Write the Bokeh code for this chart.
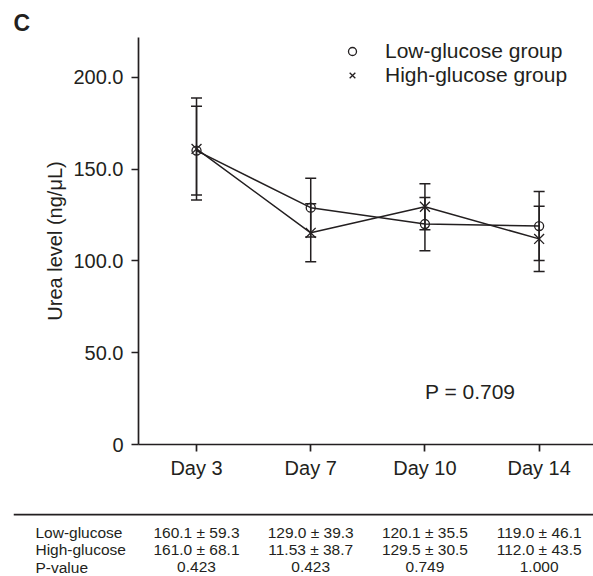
from bokeh.plotting import figure
from bokeh.models import (ColumnDataSource, Range1d, FixedTicker, Whisker, TeeHead,
                          Legend, LegendItem, Label)
from bokeh.layouts import column
from bokeh.embed import file_html
from bokeh.resources import INLINE
from bokeh.core.properties import value

# ---- data ----
days = ["Day 3", "Day 7", "Day 10", "Day 14"]
low_mean = [160.1, 129.0, 120.1, 119.0]
high_mean = [161.0, 115.3, 129.5, 112.0]
low_err = [24.2, 16.0, 14.5, 18.8]    # error bars (SEM) as drawn
high_err = [27.8, 15.8, 12.5, 17.8]
y_ticks = [0, 50, 100, 150, 200]
y_tick_labels = ["0", "50.0", "100.0", "150.0", "200.0"]
p_overall = "P = 0.709"

row_names = ["Low-glucose", "High-glucose", "P-value"]
low_row = ["160.1 ± 59.3", "129.0 ± 39.3", "120.1 ± 35.5", "119.0 ± 46.1"]
high_row = ["161.0 ± 68.1", "11.53 ± 38.7", "129.5 ± 30.5", "112.0 ± 43.5"]
p_row = ["0.423", "0.423", "0.749", "1.000"]

INK = "#231f20"
FONT = "Liberation Sans"

xs = list(range(len(days)))
src = ColumnDataSource(dict(
    x=xs,
    low=low_mean, high=high_mean,
    low_up=[m + e for m, e in zip(low_mean, low_err)],
    low_lo=[m - e for m, e in zip(low_mean, low_err)],
    high_up=[m + e for m, e in zip(high_mean, high_err)],
    high_lo=[m - e for m, e in zip(high_mean, high_err)],
))

p = figure(width=593, height=500, output_backend="svg", toolbar_location=None,
           x_range=Range1d(-0.508, 3.476), y_range=Range1d(0, 221.7),
           min_border_left=138, min_border_right=0, min_border_top=37,
           min_border_bottom=56)
p.frame_align = False
p.outline_line_color = None
p.xgrid.visible = False
p.ygrid.visible = False
p.background_fill_color = "white"
p.border_fill_color = "white"

p.title.text = "C"
p.title.align = "left"
p.title.offset = -125
p.title.text_font = FONT
p.title.text_font_size = "23px"
p.title.text_font_style = "bold"
p.title.text_color = INK
p.title.standoff = 4

# axes
for ax in (p.xaxis[0], p.yaxis[0]):
    ax.axis_line_color = INK
    ax.axis_line_width = 1.7
    ax.major_tick_line_color = INK
    ax.major_tick_line_width = 1.7
    ax.major_tick_out = 7
    ax.major_tick_in = 0
    ax.minor_tick_line_color = None
    ax.major_label_text_font = FONT
    ax.major_label_text_color = INK
    ax.major_label_text_font_size = "20px"

p.xaxis.ticker = FixedTicker(ticks=xs)
p.xaxis.major_label_overrides = {i: d for i, d in zip(xs, days)}
p.xaxis.major_label_standoff = 5

p.yaxis.ticker = FixedTicker(ticks=y_ticks)
p.yaxis.major_label_overrides = {t: l for t, l in zip(y_ticks, y_tick_labels)}
p.yaxis.major_label_standoff = 8
p.yaxis.axis_label = "Urea level (ng/μL)"
p.yaxis.axis_label_text_font = FONT
p.yaxis.axis_label_text_font_style = "normal"
p.yaxis.axis_label_text_font_size = "20px"
p.yaxis.axis_label_text_color = INK
p.yaxis.axis_label_standoff = 4

# error bars
for up, lo in (("low_up", "low_lo"), ("high_up", "high_lo")):
    w = Whisker(base="x", upper=up, lower=lo, source=src, dimension="height",
                line_color=INK, line_width=1.5,
                upper_head=TeeHead(size=11, line_color=INK, line_width=1.5),
                lower_head=TeeHead(size=11, line_color=INK, line_width=1.5))
    p.add_layout(w)

# lines and markers
p.line("x", "low", source=src, line_color=INK, line_width=1.5)
p.line("x", "high", source=src, line_color=INK, line_width=1.5)
r_low = p.scatter("x", "low", source=src, marker="circle", size=9,
                  fill_color="white", fill_alpha=0, line_color=INK, line_width=1.3)
r_high = p.scatter("x", "high", source=src, marker="x", size=14,
                   line_color=INK, line_width=1.3)

legend = Legend(items=[LegendItem(label="Low-glucose group", renderers=[r_low]),
                       LegendItem(label="High-glucose group", renderers=[r_high])],
                location=(204, 357), padding=0, margin=0, spacing=0,
                glyph_width=20, glyph_height=24, label_standoff=23,
                label_text_font=FONT, label_text_font_size="21px",
                label_text_color=INK, border_line_alpha=0,
                background_fill_alpha=0)
p.add_layout(legend)

p.add_layout(Label(x=2.0, y=29, text=p_overall, text_font=FONT,
                   text_font_size="21px", text_color=INK, text_baseline="middle",
                   text_align="left"))

# ---- table figure below (rows indexed from the top, same day spacing) ----
t = figure(width=593, height=76, output_backend="svg", toolbar_location=None,
           x_range=Range1d(-1.716, 3.476), y_range=Range1d(2.531, -1.811),
           min_border_left=0, min_border_right=0, min_border_top=0,
           min_border_bottom=0)
t.frame_align = False
t.axis.visible = False
t.xgrid.visible = False
t.ygrid.visible = False
t.outline_line_color = None
t.background_fill_color = "white"
t.border_fill_color = "white"

t.segment(x0=[-1.60], y0=[-1.0], x1=[3.476], y1=[-1.0], line_color=INK,
          line_width=1.7)

tx, ty, tt = [], [], []
for ri, row in enumerate((low_row, high_row, p_row)):
    for ci, txt in enumerate(row):
        tx.append(xs[ci]); ty.append(ri); tt.append(txt)
t.text(x=tx, y=ty, text=tt, text_font=value(FONT), text_font_size="15.5px",
       text_color=INK, text_align="center", text_baseline="middle")
t.text(x=[-1.41] * len(row_names), y=list(range(len(row_names))), text=row_names,
       text_font=value(FONT), text_font_size="15.5px", text_color=INK,
       text_align="left", text_baseline="middle")

layout = column(p, t, spacing=0)
open("out.html", "w").write(file_html(layout, INLINE))
